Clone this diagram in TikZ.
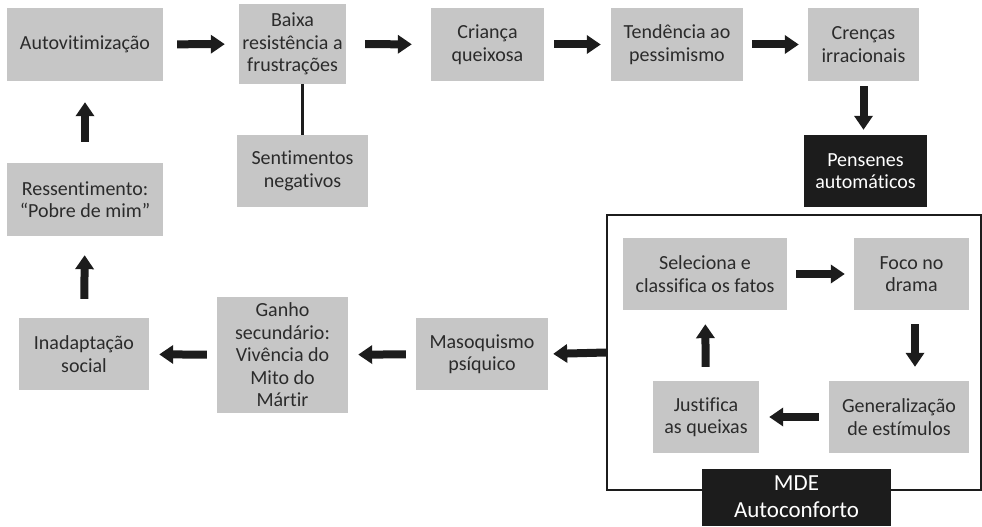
\documentclass[tikz,border=0pt]{standalone}
\usepackage{fontspec}
\setmainfont{Carlito}[Ligatures=NoCommon]
\usetikzlibrary{arrows.meta,positioning}
\definecolor{boxgray}{HTML}{C6C6C6}
\definecolor{inkdark}{HTML}{1C1C1C}
\definecolor{textgray}{HTML}{2B2B2B}

\begin{document}
\begin{tikzpicture}[
    x=1pt, y=-1pt,
    stepbox/.style={
      fill=boxgray, text=textgray, align=center, inner sep=0pt,
      font=\fontsize{20}{22.5}\selectfont,
      minimum height=72pt,
    },
    darkbox/.style={
      fill=inkdark, text=white, align=center, inner sep=0pt,
      font=\fontsize{20}{22.5}\selectfont,
      minimum height=72pt,
    },
    flow/.style={
      -{Triangle[length=14pt,width=18pt]}, line width=8pt, inkdark,
      shorten <=#1, shorten >=#1
    },
  ]
  \useasboundingbox (0,0) rectangle (982,527);

  % =================== Top row ===================
  \node[stepbox, minimum width=156pt, minimum height=73pt] (auto) at (85,44.5) {Autovitimização};
  \node[stepbox, minimum width=107pt, minimum height=80pt] (baixa) at (292.5,44) {Baixa\\resistência a\\frustrações};
  \node[stepbox, minimum width=113pt, minimum height=73pt] (crianca) at (487.5,44.5) {Criança\\queixosa};
  \node[stepbox, minimum width=132pt, minimum height=73pt] (tend) at (677,44.5) {Tendência ao\\pessimismo};
  \node[stepbox, minimum width=111pt, minimum height=73pt] (crencas) at (863.5,44.5) {Crenças\\irracionais};

  \draw[flow=14pt] (auto) -- (baixa);
  \draw[flow=19pt] (baixa) -- (crianca);
  \draw[flow=10pt] (crianca) -- (tend);
  \draw[flow=9pt] (tend) -- (crencas);

  % Sentimentos hanging from Baixa
  \node[stepbox, minimum width=131pt] (sent) at (302.5,171) {Sentimentos\\negativos};
  \draw[line width=3pt, inkdark] (baixa.south -| sent.north) -- (sent.north);

  % Pensenes
  \node[darkbox, minimum width=123pt] (pens) at (865.5,171) {Pensenes\\automáticos};
  \draw[flow=5pt] (crencas.south) -- (crencas.south |- pens.north);

  % =================== Left column ===================
  \node[stepbox, minimum width=156pt, minimum height=73pt] (ressent) at (85,199.5) {Ressentimento:\\“Pobre de mim”};
  \node[stepbox, minimum width=130pt] (inad) at (84,354) {Inadaptação\\social};
  \draw[flow=21pt] (ressent) -- (auto);
  \draw[flow=19pt] (inad) -- (ressent);

  % =================== Bottom row ===================
  \node[stepbox, minimum width=131pt, minimum height=116pt] (ganho) at (282.5,355) {Ganho\\secundário:\\Vivência do\\Mito do\\Mártir};
  \node[stepbox, minimum width=132pt] (masoq) at (482,354) {Masoquismo\\psíquico};
  \draw[flow=10pt] (ganho) -- (inad);
  \draw[flow=10pt] (masoq) -- (ganho);

  % =================== MDE frame ===================
  \node[draw=inkdark, line width=2pt, minimum width=374pt, minimum height=275pt, inner sep=0pt] (frame) at (794,352.5) {};
  \draw[flow=5pt, shorten <=0pt] (frame.west) -- (masoq.east);

  \node[stepbox, minimum width=164pt] (sel) at (705,274) {Seleciona e\\classifica os fatos};
  \node[stepbox, minimum width=115pt] (foco) at (911.5,274) {Foco no\\drama};
  \node[stepbox, minimum width=140pt] (gen) at (899,417) {Generalização\\de estímulos};
  \node[stepbox, minimum width=106pt] (just) at (706,417) {Justifica\\as queixas};

  \draw[flow=9pt] (sel) -- (foco);
  \draw[flow=14pt] (foco.south -| 915,0) -- (gen.north -| 915,0);
  \draw[flow=10pt] (gen) -- (just);
  \draw[flow=14pt] (just) -- (sel);

  \node[darkbox, minimum width=189pt, minimum height=57pt, font=\fontsize{23}{27}\selectfont] (mde) at (796.5,497) {MDE\\Autoconforto};

\end{tikzpicture}
\end{document}
